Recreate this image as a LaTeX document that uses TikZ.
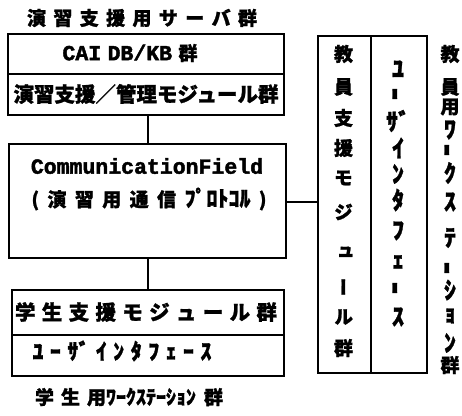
\documentclass[tikz,border=0pt]{standalone}
\usepackage{fontspec}
\setmainfont{Noto Sans CJK JP}[BoldFeatures={FakeBold=1.2}]
\newfontfamily\jpv{Noto Sans CJK JP}[RawFeature=+vert, BoldFeatures={FakeBold=1.2}]
\newfontfamily\latmono{Liberation Mono}[BoldFeatures={FakeBold=2}]
\begin{document}
\begin{tikzpicture}[x=1pt,y=-1pt,
  box/.style={draw, line width=1.6pt, inner sep=0pt, anchor=north west},
  conn/.style={line width=1.4pt},
  lbl/.style={inner sep=0pt, font=\bfseries\fontsize{19}{19}\selectfont},
  big/.style={inner sep=0pt, font=\bfseries\fontsize{20.5}{20.5}\selectfont},
  mono/.style={inner sep=0pt, font=\latmono\bfseries\fontsize{21.5}{21.5}\selectfont},
  vch/.style={inner sep=0pt, font=\jpv\bfseries\fontsize{19}{19}\selectfont},
  hch/.style={inner sep=0pt, font=\bfseries\fontsize{24}{24}\selectfont}]
\useasboundingbox (0,0) rectangle (462,415);
% boxes
\node[box, minimum width=276pt, minimum height=40pt] (cai) at (7,33) {};
\node[box, minimum width=276pt, minimum height=41pt] (mgmt) at (7,73) {};
\node[box, minimum width=277pt, minimum height=114pt] (cf) at (8,143) {};
\node[box, minimum width=272pt, minimum height=45pt] (smod) at (11,289) {};
\node[box, minimum width=272pt, minimum height=41pt] (sui) at (11,334) {};
\node[box, minimum width=53pt, minimum height=337pt] (tmod) at (317,35) {};
\node[box, minimum width=56pt, minimum height=337pt] (tui) at (370,35) {};
% connectors
\coordinate (vx) at (148,0);
\coordinate (hy) at (0,202);
\draw[conn] (mgmt.south -| vx) -- (cf.north -| vx);
\draw[conn] (cf.south -| vx) -- (smod.north -| vx);
\draw[conn] (cf.east |- hy) -- (tmod.west |- hy);
% texts
\node[lbl] (tsrv) at (142,18) {\makebox[230pt]{演\hfill 習\hfill 支\hfill 援\hfill 用\hfill サ\hfill ー\hfill バ\hfill 群}};
\node[mono] (tcai) at (130,53) {\makebox[135pt]{CAI\hfill DB/KB\hfill{\bfseries\rmfamily\fontsize{19}{19}\selectfont 群}}};
\node[big] (tmgmt) at (146,94) {演習支援／管理モジュール群};
\node[mono] (tcf1) at (147,166) {\makebox[233pt]{CommunicationField}};
\node[lbl] (tcf2) at (149,199) {\makebox[235pt]{(\hfill 演\hfill 習\hfill 用\hfill 通\hfill 信\hfill {\fontsize{22}{22}\selectfont ﾌﾟﾛﾄｺﾙ}\hfill )}};
\node[big] (tsmod) at (146,312) {\makebox[262pt]{学\hfill 生\hfill 支\hfill 援\hfill モ\hfill ジ\hfill ュ\hfill ー\hfill ル\hfill 群}};
\node[lbl, font=\bfseries\fontsize{22}{22}\selectfont] (tsui) at (122,351) {\makebox[179pt]{ﾕ\hfill ｰ\hfill ｻﾞ\hfill ｲ\hfill ﾝ\hfill ﾀ\hfill ﾌ\hfill ｪ\hfill ｰ\hfill ｽ}};
\node[lbl] (tws) at (129,397) {学\hspace{7pt}生\hspace{7pt}用{\fontsize{20}{20}\selectfont ﾜｰｸｽﾃｰｼｮﾝ}\hspace{8pt}群};
% vertical texts
\foreach \c/\y in {教/54, 員/87, 支/118, 援/148, モ/178, ジ/212, ュ/253, ー/287, ル/317, 群/348}
  \node[vch] (l\y) at (343.5,\y) {\c};
\foreach \c/\y/\r in {ﾕ/69/0, ｰ/94/90, ｻﾞ/121/0, ｲ/148/0, ﾝ/174/0, ﾀ/200/0, ﾌ/231/0, ｪ/262/0, ｰ/288/90, ｽ/317/0}
  \node[hch, rotate=\r] (m\y) at (398,\y) {\c};
\foreach \c/\y/\r in {ﾜ/130/0, ｰ/150/90, ｸ/173/0, ｽ/202/0, ﾃ/238/0, ｰ/268/90, ｼ/290/0, ｮ/316/0, ﾝ/343/0}
  \node[hch, rotate=\r] (r\y) at (450,\y) {\c};
\foreach \c/\y in {教/54, 員/87, 用/107, 群/365}
  \node[lbl] (rk\y) at (450,\y) {\c};
\end{tikzpicture}
\end{document}
